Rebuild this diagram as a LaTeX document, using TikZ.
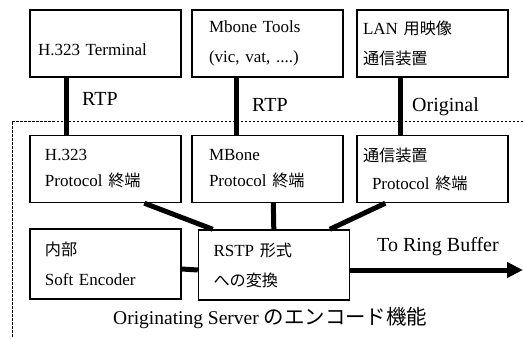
\documentclass[tikz,border=0pt]{standalone}
\usepackage{fontspec}
\setmainfont{Liberation Serif}
\newfontfamily\jp[Scale=0.95]{Noto Sans CJK JP}
\usetikzlibrary{arrows.meta}

\begin{document}
\begin{tikzpicture}[x=1pt, y=-1pt,
	box/.style={draw, rectangle, line width=1.4pt, minimum width=\BoxW pt, minimum height=\BoxH pt, inner sep=0pt, text width=#1, align=left, font=\fontsize{17}{30}\selectfont},
	box/.default=121pt,
	link/.style={line width=5pt},
	lbl/.style={inner sep=0pt, anchor=west, font=\fontsize{20}{24}\selectfont},
	frame/.style={line width=0.8pt, dash pattern=on 2.5pt off 1.5pt}]

	\def \BoxW {151} %in pt
	\def \BoxH {67}
	\def \ColA {105.5}
	\def \ColB {267.5}
	\def \ColC {432.5}

	\useasboundingbox (0,0) rectangle (523,338);

	\node (T1) at (\ColA,43.5) [box=135pt]{\rule{0pt}{24pt}H.323 Terminal};
	\node (T2) at (\ColB,43.5) [box=117pt]{Mbone Tools\\(vic, vat, ....)};
	\node (T3) at (\ColC,43.5) [box=139pt]{LAN {\jp 用映像}\\{\jp 通信装置}};

	\node (P1) at (\ColA,169) [box=121pt, font=\fontsize{17}{26}\selectfont]{H.323\\Protocol {\jp 終端}};
	\node (P2) at (\ColB,169) [box=117pt, font=\fontsize{17}{26}\selectfont]{MBone\\Protocol {\jp 終端}};
	\node (P3) at (\ColC,169) [box=139pt, font=\fontsize{17}{28}\selectfont]{{\jp 通信装置}\\\hspace{9pt}Protocol {\jp 終端}};

	\node (S) at (\ColA,264) [box, minimum height=70pt]{{\jp 内部}\\Soft Encoder};
	\node (R) at (274,265) [box, minimum height=70pt]{RSTP {\jp 形式}\\{\jp への変換}};

	\coordinate (RB) at (523,270);

	% server area
	\draw[frame] (523,121) -| (12,338);

	\draw[link] ([xshift=37pt]T1.south west) -- ([xshift=37pt]P1.north west);
	\draw[link] ([xshift=45pt]T2.south west) -- ([xshift=45pt]P2.north west);
	\draw[link] ([xshift=44pt]T3.south west) -- ([xshift=44pt]P3.north west);
	\draw[link] ([xshift=115pt]P1.south west) -- ([xshift=15pt]R.north west);
	\draw[link] ([xshift=82pt]P2.south west) -- ([xshift=76pt]R.north west);
	\draw[link] ([xshift=29pt]P3.south west) -- ([xshift=132pt]R.north west);
	\draw[link] ([yshift=-5pt]S.east) -- ([yshift=-5pt]R.west);
	\draw[link, -{Triangle[length=16pt,width=15pt]}] ([yshift=-5pt]R.east) -- (RB);

	\node (L1) at (82,99) [lbl]{RTP};
	\node (L2) at (252,105) [lbl]{RTP};
	\node (L3) at (412,107) [lbl]{Original};
	\node (L4) at (377,247) [lbl]{To Ring Buffer};
	\node (cap) at (113,318) [lbl, font=\fontsize{19.5}{24}\selectfont]{Originating Server {\jp\fontsize{21.5}{24}\selectfont のエンコード機能}};

\end{tikzpicture}
\end{document}
